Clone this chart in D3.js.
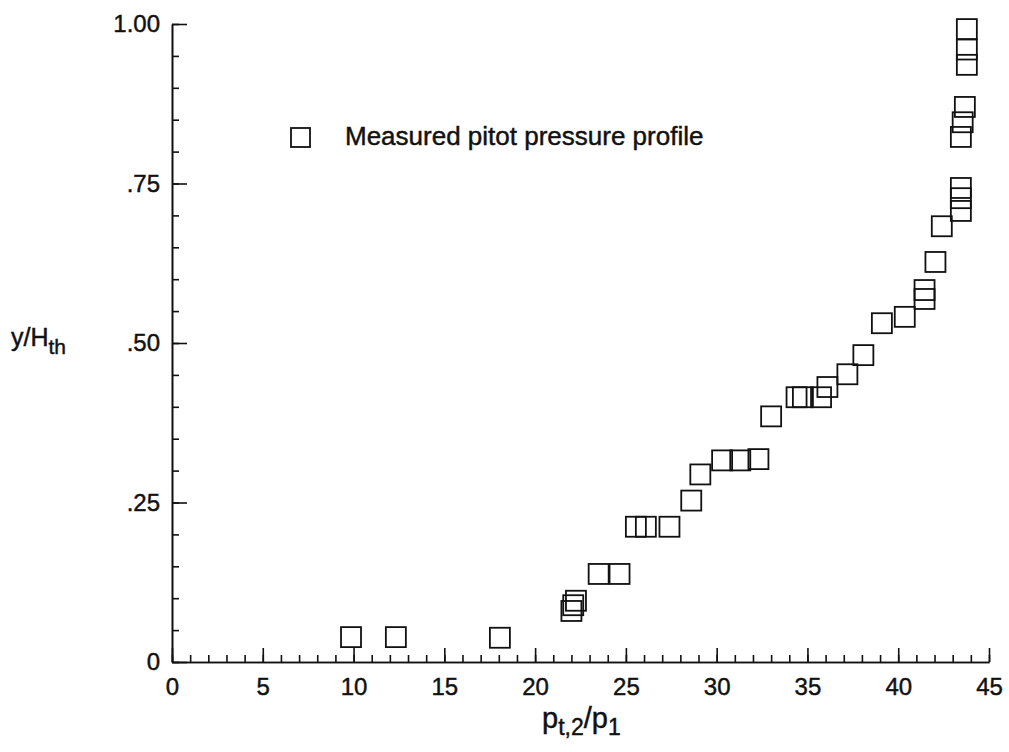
<!DOCTYPE html>
<html>
<head>
<meta charset="utf-8">
<script src="https://cdn.jsdelivr.net/npm/d3@7"></script>
<style>
  body { margin: 0; background: #fff; }
  svg { display: block; font-family: "Liberation Sans", Arial, Helvetica, sans-serif; }
  text { stroke: #111; stroke-width: 0.45px; }
</style>
</head>
<body>
<svg width="1009" height="752"></svg>
<script>
// measured pitot pressure profile
const pressureRatio = [
  9.86, 12.33, 18.06, 22.0, 22.1, 22.25, 23.5, 24.65, 25.55, 26.1,
  27.4, 28.6, 29.1, 30.3, 31.3, 32.3, 33.0, 34.4, 34.75, 35.75,
  36.1, 37.2, 38.08, 39.1, 40.36, 41.45, 41.45, 42.05, 42.4, 43.45,
  43.45, 43.45, 43.45, 43.55, 43.67, 43.78, 43.78, 43.78,
]
const heightRatio = [
  0.039, 0.039, 0.038, 0.080, 0.089, 0.096, 0.138, 0.138, 0.212, 0.212,
  0.212, 0.253, 0.294, 0.316, 0.316, 0.318, 0.385, 0.415, 0.415, 0.415,
  0.431, 0.451, 0.481, 0.531, 0.541, 0.569, 0.583, 0.627, 0.683, 0.707,
  0.727, 0.743, 0.823, 0.846, 0.870, 0.936, 0.960, 0.992,
]
const xTicks = [0, 5, 10, 15, 20, 25, 30, 35, 40, 45]
const yTicks = [0, 0.25, 0.5, 0.75, 1]
const yTickLabels = ['0', '.25', '.50', '.75', '1.00']
const legendLabel = 'Measured pitot pressure profile'

const width = 1009
const height = 752
const margin = { top: 24, right: 20, bottom: 90, left: 172 }
const box = 20
const ink = '#111'

const svg = d3.select('svg')

const x = d3.scaleLinear().domain([0, 45]).range([margin.left, width - margin.right])
const y = d3.scaleLinear().domain([0, 1]).range([height - margin.bottom, margin.top])

// minor ticks first, then the labelled axes on top
svg.append('g')
  .attr('transform', `translate(0, ${ y(0) })`)
  .call(d3.axisBottom(x).tickValues(d3.range(0, 46, 1)).tickSize(-7).tickSizeOuter(0).tickFormat(''))
svg.append('g')
  .attr('transform', `translate(${ x(0) }, 0)`)
  .call(d3.axisLeft(y).tickValues(d3.range(0, 1.001, 0.05)).tickSize(-7).tickSizeOuter(0).tickFormat(''))

svg.append('g')
  .attr('transform', `translate(0, ${ y(0) })`)
  .call(d3.axisBottom(x).tickValues(xTicks).tickSize(-14).tickSizeOuter(0).tickPadding(16))
  .attr('font-size', 24)
  .attr('font-family', null)

svg.append('g')
  .attr('transform', `translate(${ x(0) }, 0)`)
  .call(d3.axisLeft(y).tickValues(yTicks).tickSize(-15).tickSizeOuter(0).tickPadding(12)
    .tickFormat((d, i) => yTickLabels[i]))
  .attr('font-size', 24)
  .attr('font-family', null)

svg.selectAll('.domain, .tick line').attr('stroke', ink).attr('stroke-width', 1.6)
svg.selectAll('.tick text').attr('fill', ink)

// data squares, hollow so overlaps show
svg.append('g')
  .selectAll('rect')
  .data(d3.zip(pressureRatio, heightRatio))
  .join('rect')
  .attr('x', d => x(d[0]) - box / 2)
  .attr('y', d => y(d[1]) - box / 2)
  .attr('width', box)
  .attr('height', box)
  .attr('fill', 'none')
  .attr('stroke', ink)
  .attr('stroke-width', 1.8)

// legend
const legend = svg.append('g').attr('transform', 'translate(291, 128)')
legend.append('rect')
  .attr('width', box - 1).attr('height', box - 1)
  .attr('fill', 'none').attr('stroke', ink).attr('stroke-width', 1.8)
legend.append('text')
  .attr('x', 54).attr('y', 17)
  .attr('font-size', 26)
  .attr('fill', ink)
  .text(legendLabel)

// axis titles
const xTitle = svg.append('text')
  .attr('x', 542).attr('y', 728)
  .attr('font-size', 29)
  .attr('fill', ink)
xTitle.append('tspan').text('p')
xTitle.append('tspan').attr('dy', 7).attr('font-size', 23).text('t,2')
xTitle.append('tspan').attr('dy', -7).text('/p')
xTitle.append('tspan').attr('dy', 7).attr('font-size', 23).text('1')

const yTitle = svg.append('text')
  .attr('x', 11).attr('y', 346)
  .attr('font-size', 25)
  .attr('fill', ink)
yTitle.append('tspan').text('y/H')
yTitle.append('tspan').attr('dy', 8).attr('font-size', 21).text('th')
</script>
</body>
</html>
